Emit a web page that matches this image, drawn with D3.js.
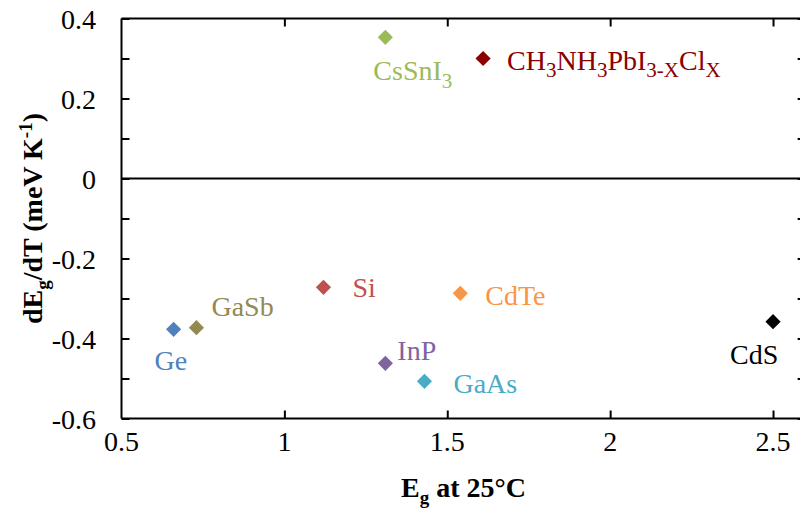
<!DOCTYPE html>
<html>
<head>
<meta charset="utf-8">
<script src="https://cdn.jsdelivr.net/npm/d3@7"></script>
<style>
  html, body { margin: 0; padding: 0; background: #fff; }
</style>
</head>
<body>
<svg id="chart" width="800" height="511"></svg>
<script>
// Band gap at 25 °C (eV) and its temperature coefficient (meV/K)
const materials = ["CsSnI3", "CH3NH3PbI3-xClx", "Ge", "GaSb", "Si", "CdTe", "InP", "GaAs", "CdS"];
const bandGap   = [1.31, 1.61, 0.66, 0.73, 1.12, 1.54, 1.31, 1.43, 2.50];
const slope     = [0.353, 0.300, -0.377, -0.373, -0.272, -0.287, -0.462, -0.507, -0.358];
const colors    = ["#9BBB59", "#8B0000", "#4F81BD", "#938953", "#C0504D", "#F79646", "#8064A2", "#4BACC6", "#000000"];

// Label text pieces: [text, isSubscript]
const labelParts = [
  [["CsSnI", false], ["3", true]],
  [["CH", false], ["3", true], ["NH", false], ["3", true], ["PbI", false], ["3-X", true], ["Cl", false], ["X", true]],
  [["Ge", false]],
  [["GaSb", false]],
  [["Si", false]],
  [["CdTe", false]],
  [["InP", false]],
  [["GaAs", false]],
  [["CdS", false]]
];
// Label offsets from each marker (px): left edge, baseline
const labelDx = [-12, 24, -19, 15, 29, 25, 12, 29, -43];
const labelDy = [43, 11, 41, -12, 10, 12, -3, 12, 42];

const xTicks = [0.5, 1, 1.5, 2, 2.5];
const yTicks = [0.4, 0.2, 0, -0.2, -0.4, -0.6];
const yMinorTicks = d3.range(-6, 5).map(v => v / 10);

const FONT = "'Liberation Serif', 'Times New Roman', Times, serif";
const svg = d3.select("#chart").attr("font-family", FONT);
const mLeft = 121.5, mRight = 805.6, mTop = 18.5, mBottom = 418.5;

const x = d3.scaleLinear().domain([0.5, 2.6]).range([mLeft, mRight]);
const y = d3.scaleLinear().domain([-0.6, 0.4]).range([mBottom, mTop]);

// Plain hyphen for negative numbers
const fmt = v => String(v).replace("\u2212", "-");
const tickFont = 28;

// Frame axes with inward ticks
const axStyle = g => g.selectAll("path, line").attr("stroke", "#000").attr("stroke-width", 2);

svg.append("g").attr("transform", `translate(0,${mBottom})`)
  .call(d3.axisTop(x).tickValues(xTicks.slice(1)).tickSize(8).tickFormat(""))
  .call(axStyle).call(g => g.select(".domain").attr("d", `M${mLeft},0H${mRight}`));

svg.append("g").attr("transform", `translate(0,${mTop})`)
  .call(d3.axisBottom(x).tickValues(xTicks.slice(1)).tickSize(8).tickFormat(""))
  .call(axStyle).call(g => g.select(".domain").attr("d", `M${mLeft},0H${mRight}`));

svg.append("g").attr("transform", `translate(${mLeft},0)`)
  .call(d3.axisRight(y).tickValues(yMinorTicks).tickSize(8).tickFormat(""))
  .call(axStyle).call(g => g.select(".domain").attr("d", `M0,${mTop}V${mBottom}`));

svg.append("g").attr("transform", `translate(${mRight},0)`)
  .call(d3.axisLeft(y).tickValues(yMinorTicks).tickSize(8).tickFormat(""))
  .call(axStyle).call(g => g.select(".domain").attr("d", `M0,${mTop}V${mBottom}`));

// Zero line
svg.append("line")
  .attr("x1", mLeft).attr("x2", mRight)
  .attr("y1", y(0)).attr("y2", y(0))
  .attr("stroke", "#000").attr("stroke-width", 2);

// Tick labels
svg.append("g").selectAll("text").data(xTicks).join("text")
  .attr("x", d => x(d)).attr("y", 451)
  .attr("text-anchor", "middle")
  .attr("font-family", FONT)
  .attr("font-size", tickFont)
  .text(fmt);

svg.append("g").selectAll("text").data(yTicks).join("text")
  .attr("x", 96).attr("y", d => y(d) + 10)
  .attr("text-anchor", "end")
  .attr("font-family", FONT)
  .attr("font-size", tickFont)
  .text(fmt);

// Axis titles
const xTitle = svg.append("text")
  .attr("x", (mLeft + mRight) / 2).attr("y", 497)
  .attr("text-anchor", "middle")
  .attr("font-family", FONT)
  .attr("font-size", 28).attr("font-weight", "bold");
xTitle.append("tspan").text("E");
xTitle.append("tspan").attr("dy", 7).attr("font-size", 19).text("g");
xTitle.append("tspan").attr("dy", -7).text(" at 25°C");

const yTitle = svg.append("text")
  .attr("transform", `translate(42,${(mTop + mBottom) / 2}) rotate(-90)`)
  .attr("text-anchor", "middle")
  .attr("font-family", FONT)
  .attr("font-size", 28).attr("font-weight", "bold");
yTitle.append("tspan").text("dE");
yTitle.append("tspan").attr("dy", 7).attr("font-size", 19).text("g");
yTitle.append("tspan").attr("dy", -7).text("/dT (meV K");
yTitle.append("tspan").attr("dy", -10).attr("font-size", 19).text("-1");
yTitle.append("tspan").attr("dy", 10).text(")");

// Markers
const pts = materials.map((m, i) => ({ m, eg: bandGap[i], s: slope[i], c: colors[i], i }));
const diamond = d3.symbol().type(d3.symbolSquare).size(115);

svg.append("g").selectAll("path").data(pts).join("path")
  .attr("d", diamond)
  .attr("transform", d => `translate(${x(d.eg)},${y(d.s)}) rotate(45)`)
  .attr("fill", d => d.c);

// Labels
const labels = svg.append("g").selectAll("text").data(pts).join("text")
  .attr("x", d => x(d.eg) + labelDx[d.i])
  .attr("y", d => y(d.s) + labelDy[d.i])
  .attr("font-family", FONT)
  .attr("font-size", 28)
  .attr("fill", d => d.c);

labels.each(function (d) {
  const t = d3.select(this);
  let sub = false;
  labelParts[d.i].forEach(([txt, isSub]) => {
    const dy = isSub === sub ? 0 : (isSub ? 7.5 : -7.5);
    t.append("tspan").attr("dy", dy).attr("font-size", isSub ? 21 : 28).text(txt);
    sub = isSub;
  });
});
</script>
</body>
</html>
